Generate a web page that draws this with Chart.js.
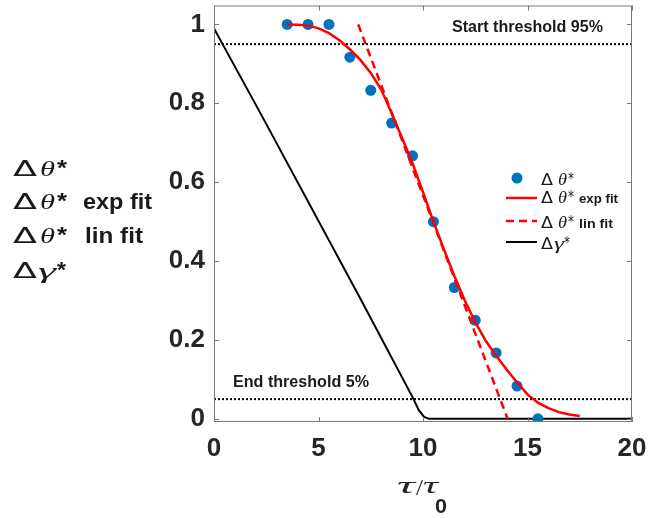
<!DOCTYPE html>
<html>
<head>
<meta charset="utf-8">
<script src="https://cdn.jsdelivr.net/npm/chart.js@4.4.1/dist/chart.umd.min.js"></script>
<style>
  html, body { margin: 0; padding: 0; background: #fff; }
</style>
</head>
<body>
<canvas id="chart" width="648" height="518"></canvas>
<script>
// measured points
const thetaX = [3.5, 4.5, 5.5, 6.5, 7.5, 8.5, 9.5, 10.5, 11.5, 12.5, 13.5, 14.5, 15.5];
const thetaY = [1, 1, 1, 0.917, 0.833, 0.75, 0.667, 0.5, 0.333, 0.25, 0.167, 0.083, 0];

// exponential fit curve
const expX = [3.5, 4, 4.5, 5, 5.5, 6, 6.5, 7, 7.5, 8, 8.5, 9, 9.5, 10, 10.5, 11, 11.5, 12, 12.5, 13, 13.5, 14, 14.5, 15, 15.5, 16, 16.5, 17, 17.5];
const expY = [1, 0.999, 0.997, 0.99, 0.978, 0.96, 0.937, 0.91, 0.877, 0.835, 0.775, 0.712, 0.648, 0.575, 0.5, 0.43, 0.362, 0.3, 0.245, 0.198, 0.16, 0.125, 0.092, 0.062, 0.041, 0.027, 0.017, 0.011, 0.007];

// linear fit
const linX = [6.9, 14.05];
const linY = [1, 0];

// delta gamma
const gammaX = [0, 2.2, 7, 9.5, 9.8, 10.05, 10.3, 20];
const gammaY = [0.99, 0.777, 0.305, 0.055, 0.022, 0.005, 0, 0];

// thresholds
const thresholdX = [0, 20];
const startLevel = 0.95;
const endLevel = 0.05;

const xTicks = [0, 5, 10, 15, 20];
const yTicks = [0, 0.2, 0.4, 0.6, 0.8, 1];

const toPoints = (xs, ys) => xs.map((v, i) => ({ x: v, y: ys[i] }));

const SANS = '"Liberation Sans", Arial, sans-serif';
const DEJA = '"DejaVu Sans", sans-serif';
const SERIF = '"Liberation Serif", "Times New Roman", serif';

// draw a piece of text stretched to a given width
function piece(ctx, text, font, x, y, w, color) {
  ctx.save();
  ctx.font = font;
  ctx.fillStyle = color || '#1a1a1a';
  ctx.textBaseline = 'alphabetic';
  ctx.textAlign = 'left';
  const m = ctx.measureText(text).width;
  ctx.translate(x, y);
  if (w) ctx.scale(w / m, 1);
  ctx.fillText(text, 0, 0);
  ctx.restore();
}

const decorations = {
  id: 'decorations',
  afterDraw(chart) {
    const { ctx, chartArea: a, scales: { x, y } } = chart;

    // box + inward ticks
    ctx.save();
    ctx.strokeStyle = '#7a7a7a';
    ctx.lineWidth = 1;
    ctx.strokeRect(a.left + 0.5, a.top + 0.5, a.right - a.left - 1, a.bottom - a.top - 1);
    ctx.beginPath();
    xTicks.forEach(v => {
      const px = Math.round(x.getPixelForValue(v)) + 0.5;
      ctx.moveTo(px, a.bottom); ctx.lineTo(px, a.bottom - 5);
      ctx.moveTo(px, a.top); ctx.lineTo(px, a.top + 5);
    });
    yTicks.forEach(v => {
      const py = Math.round(y.getPixelForValue(v)) + 0.5;
      ctx.moveTo(a.left, py); ctx.lineTo(a.left + 5, py);
      ctx.moveTo(a.right, py); ctx.lineTo(a.right - 5, py);
    });
    ctx.stroke();
    ctx.restore();

    // threshold labels
    piece(ctx, 'Start threshold 95%', 'bold 16px ' + SANS, 452, 32, 151);
    piece(ctx, 'End threshold 5%', 'bold 16px ' + SANS, 233, 387, 136);

    // inner legend
    ctx.save();
    ctx.fillStyle = '#0072BD';
    ctx.beginPath(); ctx.arc(517, 178, 5.5, 0, Math.PI * 2); ctx.fill();
    ctx.lineWidth = 2.5;
    ctx.strokeStyle = '#ff0000';
    ctx.beginPath(); ctx.moveTo(506, 198); ctx.lineTo(537, 198); ctx.stroke();
    ctx.setLineDash([8, 5]);
    ctx.beginPath(); ctx.moveTo(506, 221); ctx.lineTo(537, 221); ctx.stroke();
    ctx.setLineDash([]);
    ctx.lineWidth = 2;
    ctx.strokeStyle = '#000';
    ctx.beginPath(); ctx.moveTo(506, 242); ctx.lineTo(537, 242); ctx.stroke();
    ctx.restore();

    const smallD = '16px ' + DEJA, smallT = 'italic 16px ' + SERIF, smallB = 'bold 12px ' + SANS;
    [185, 203, 228].forEach(b => {
      piece(ctx, '\u0394', smallD, 541, b, 12);
      piece(ctx, '\u03b8', smallT, 558, b, 9);
      piece(ctx, '*', smallD, 568, b - 1, 6);
    });
    piece(ctx, 'exp fit', smallB, 579, 203, 39);
    piece(ctx, 'lin fit', smallB, 579, 228, 34);
    piece(ctx, '\u0394', smallD, 541, 249, 12);
    piece(ctx, '\u03b3', smallT, 554, 249, 10);
    piece(ctx, '*', smallD, 564, 248, 6);

    // left legend
    const bigD = '21px ' + DEJA, bigT = 'italic 22px ' + SERIF, bigB = 'bold 22px ' + SANS;
    [176, 209, 243].forEach(b => {
      piece(ctx, '\u0394', bigD, 13, b, 24);
      piece(ctx, '\u03b8', bigT, 40, b, 15);
      piece(ctx, '*', bigB, 57, b - 1, 10);
    });
    piece(ctx, 'exp fit', bigB, 83, 209, 69);
    piece(ctx, 'lin fit', bigB, 85, 243, 58);
    piece(ctx, '\u0394', bigD, 13, 278, 24);
    piece(ctx, '\u03b3', bigT, 38, 278, 18);
    piece(ctx, '*', bigB, 57, 277, 9);

    // x axis title
    piece(ctx, '\u03c4', 'italic 23px ' + SERIF, 397, 493, 18, '#262626');
    piece(ctx, '/', '24px ' + SERIF, 416, 495, 7, '#262626');
    piece(ctx, '\u03c4', 'italic 23px ' + SERIF, 423, 493, 15, '#262626');
    piece(ctx, '0', 'bold 20px ' + SANS, 435, 513, 12, '#262626');
  }
};

new Chart(document.getElementById('chart'), {
  type: 'scatter',
  data: {
    datasets: [
      {
        data: toPoints(expX, expY),
        showLine: true,
        borderColor: '#ff0000',
        borderWidth: 2.5,
        pointRadius: 0
      },
      {
        data: toPoints(linX, linY),
        showLine: true,
        borderColor: '#ff0000',
        borderWidth: 2.5,
        borderDash: [8, 5],
        pointRadius: 0
      },
      {
        data: toPoints(thetaX, thetaY),
        showLine: false,
        backgroundColor: '#0072BD',
        borderWidth: 0,
        pointRadius: 5.5
      },
      {
        data: toPoints(gammaX, gammaY),
        showLine: true,
        borderColor: '#000',
        borderWidth: 2,
        pointRadius: 0
      },
      {
        data: toPoints(thresholdX, [startLevel, startLevel]),
        showLine: true,
        borderColor: '#000',
        borderWidth: 2,
        borderDash: [2, 2],
        pointRadius: 0
      },
      {
        data: toPoints(thresholdX, [endLevel, endLevel]),
        showLine: true,
        borderColor: '#000',
        borderWidth: 2,
        borderDash: [2, 2],
        pointRadius: 0
      }
    ]
  },
  options: {
    responsive: false,
    animation: false,
    layout: { padding: { left: 154, right: 16, top: 5, bottom: 0 } },
    plugins: { legend: { display: false }, tooltip: { enabled: false } },
    scales: {
      x: {
        type: 'linear',
        min: 0,
        max: 20,
        grid: { display: false, drawTicks: false },
        border: { display: false },
        afterBuildTicks: s => { s.ticks = xTicks.map(v => ({ value: v })); },
        afterFit: s => { s.height = 96; s.paddingLeft = 0; s.paddingRight = 0; },
        ticks: {
          padding: 11,
          color: '#262626',
          font: { family: SANS, size: 26, weight: 'bold' },
          maxRotation: 0,
          callback: v => String(v)
        }
      },
      y: {
        min: -0.008,
        max: 1.048,
        grid: { display: false, drawTicks: false },
        border: { display: false },
        afterBuildTicks: s => { s.ticks = yTicks.map(v => ({ value: v })); },
        afterFit: s => { s.width = 60; s.paddingTop = 0; s.paddingBottom = 0; },
        ticks: {
          padding: 9,
          color: '#262626',
          font: { family: SANS, size: 26, weight: 'bold' },
          callback: v => String(v)
        }
      }
    }
  },
  plugins: [decorations]
});
</script>
</body>
</html>
